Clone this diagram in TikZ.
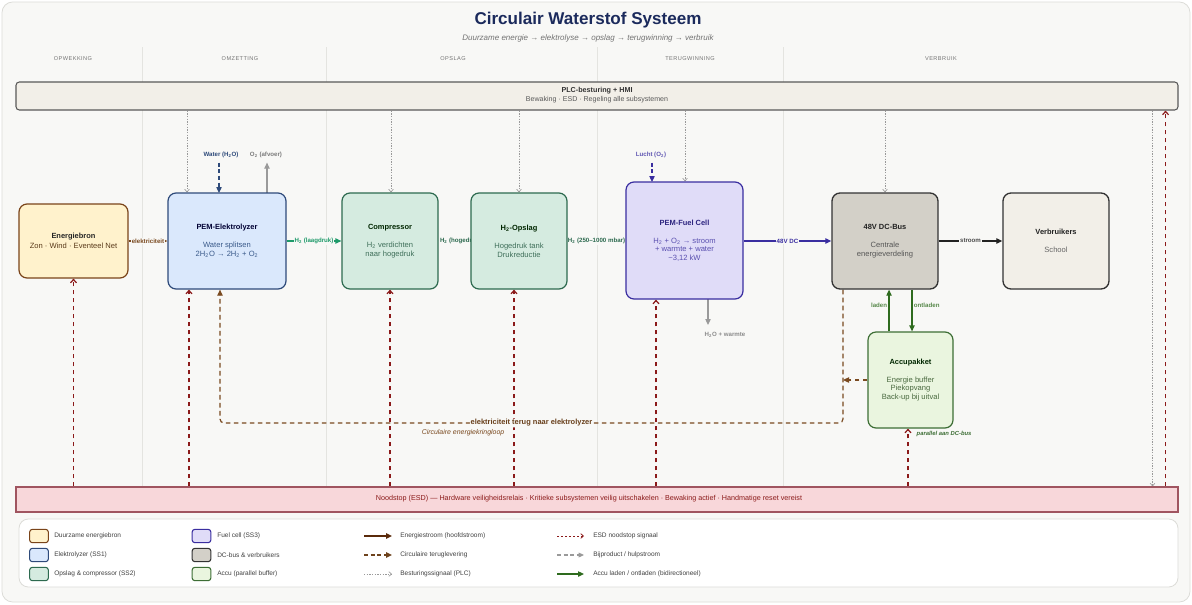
\documentclass[tikz,border=0pt]{standalone}
\usepackage{fontspec}
\setmainfont{Liberation Sans}
\newfontfamily\hdrfont[LetterSpace=8]{Liberation Sans}
\usetikzlibrary{arrows.meta}
\pgfdeclarelayer{background}
\pgfsetlayers{background,main}
\definecolor{bgc}{HTML}{F8F8F6}
\definecolor{framec}{HTML}{DCDCD8}
\definecolor{sepc}{HTML}{E4E4E0}
\definecolor{titlec}{HTML}{1B2A5C}
\definecolor{ebfill}{HTML}{FFF2CC}\definecolor{ebdraw}{HTML}{7A4419}\definecolor{ebtext}{HTML}{5A3A1A}
\definecolor{elfill}{HTML}{DAE8FC}\definecolor{eldraw}{HTML}{2E4A7A}\definecolor{eltext}{HTML}{3A5A8A}
\definecolor{ssfill}{HTML}{D5EBE0}\definecolor{ssdraw}{HTML}{2D6A4F}\definecolor{sstext}{HTML}{3F6F5A}
\definecolor{fcfill}{HTML}{E0DCF8}\definecolor{fcdraw}{HTML}{3A2EA0}\definecolor{fctext}{HTML}{5A50B0}
\definecolor{dcfill}{HTML}{D3D0C8}\definecolor{dcdraw}{HTML}{333333}\definecolor{dctext}{HTML}{555555}
\definecolor{vbfill}{HTML}{F2EFE8}
\definecolor{acfill}{HTML}{EAF5DF}\definecolor{acdraw}{HTML}{3D6E35}\definecolor{actext}{HTML}{4A6A40}
\definecolor{esdfill}{HTML}{F8D7DA}\definecolor{esddraw}{HTML}{A05560}\definecolor{esdc}{HTML}{8B1A1A}
\definecolor{brownc}{HTML}{7A4A20}
\definecolor{darkbrown}{HTML}{5A2A0A}
\definecolor{plcc}{HTML}{9A9A9A}
\definecolor{h2lc}{HTML}{1E9A6A}
\definecolor{greenc}{HTML}{2E6B1E}
\definecolor{darkt}{HTML}{222222}
\newcommand{\nt}[2]{{\color{#1}\fontsize{5.6pt}{6.5pt}\selectfont\bfseries #2}}
\newcommand{\sub}[1]{\textsubscript{#1}}
\begin{document}
\begin{tikzpicture}[x=0.75pt,y=-0.75pt,
  box/.style={draw, line width=0.9pt, rounded corners=6pt, align=center, inner sep=1pt, font=\fontsize{5.7pt}{6.5pt}\selectfont},
  lbl/.style={fill=bgc, inner sep=0.6pt, font=\fontsize{4.6pt}{5pt}\selectfont\bfseries},
  flow/.style={line width=0.9pt,-{Triangle[length=4.5pt,width=4pt]}},
  plcarrow/.style={draw=plcc, line width=0.5pt, dash pattern=on 1pt off 1pt, -{Straight Barb[length=2pt,width=3.5pt]}},
  esdarrow/.style={draw=esdc, line width=0.9pt, dash pattern=on 3pt off 3pt, -{Straight Barb[length=2.5pt,width=4.5pt]}},
  circ/.style={draw=brownc, line width=0.9pt, dash pattern=on 3.5pt off 2.5pt},
  hdr/.style={font=\hdrfont\fontsize{4.2pt}{5pt}\selectfont, text=black!55},
  sw/.style={minimum width=14pt, minimum height=10pt, rounded corners=2pt, line width=0.8pt, inner sep=0pt},
  legtxt/.style={anchor=west, font=\fontsize{4.9pt}{6pt}\selectfont, text=black!75, inner sep=0pt},
  smalllbl/.style={font=\fontsize{4.6pt}{5pt}\selectfont\bfseries}
]
\useasboundingbox (0,0) rectangle (1192,604);

% ---- title
\node[font=\fontsize{12.8pt}{15pt}\selectfont\bfseries, text=titlec] (title) at (588,20) {Circulair Waterstof Systeem};
\node[font=\fontsize{6pt}{7pt}\selectfont\itshape, text=black!55] (subtitle) at (588,38) {Duurzame energie → elektrolyse → opslag → terugwinning → verbruik};

% ---- column headers
\node[hdr] (h1) at (73,59) {OPWEKKING};
\node[hdr] (h2) at (240,59) {OMZETTING};
\node[hdr] (h3) at (453,59) {OPSLAG};
\node[hdr] (h4) at (690,59) {TERUGWINNING};
\node[hdr] (h5) at (941,59) {VERBRUIK};

% ---- bars
\node[draw=black!65, fill=vbfill, line width=0.8pt, rounded corners=2.5pt, minimum width=871.5pt, minimum height=21pt, inner sep=0pt] (plc) at (597,96) {};
\node[font=\fontsize{5.4pt}{6pt}\selectfont\bfseries, text=black!80] (plct) at (597,91) {PLC-besturing + HMI};
\node[font=\fontsize{5.3pt}{6pt}\selectfont, text=black!65] (plcs) at (597,100) {Bewaking · ESD · Regeling alle subsystemen};

\node[draw=esddraw, fill=esdfill, line width=0.8pt, minimum width=871.5pt, minimum height=18.75pt, inner sep=0pt] (esd) at (597,499.5) {};
\node[font=\fontsize{5.4pt}{6pt}\selectfont, text=esdc] (esdt) at (589,499)
  {Noodstop (ESD) — Hardware veiligheidsrelais · Kritieke subsystemen veilig uitschakelen · Bewaking actief · Handmatige reset vereist};

% ---- main nodes
\node[box, fill=ebfill, draw=ebdraw, text=ebtext, minimum width=81.75pt, minimum height=55.5pt] (eb) at (73.5,241)
  {\nt{black!85}{Energiebron}\\[0.6pt]Zon · Wind · Eventeel Net};
\node[box, fill=elfill, draw=eldraw, text=eltext, minimum width=88.5pt, minimum height=72pt] (el) at (227,241)
  {\nt{black!80!blue}{PEM-Elektrolyzer}\\[7pt]Water splitsen\\2H\sub{2}O → 2H\sub{2} + O\sub{2}};
\node[box, fill=ssfill, draw=ssdraw, text=sstext, minimum width=72pt, minimum height=72pt] (co) at (390,241)
  {\nt{black!85!green}{Compressor}\\[7pt]H\sub{2} verdichten\\naar hogedruk};
\node[box, fill=ssfill, draw=ssdraw, text=sstext, minimum width=72pt, minimum height=72pt] (op) at (519,241)
  {\nt{black!85!green}{H\sub{2}-Opslag}\\[7pt]Hogedruk tank\\Drukreductie};
\node[box, fill=fcfill, draw=fcdraw, text=fctext, minimum width=87.75pt, minimum height=87.75pt] (fc) at (684.5,240.5)
  {\nt{fcdraw!80!black}{PEM-Fuel Cell}\\[7pt]H\sub{2} + O\sub{2} → stroom\\+ warmte + water\\\textasciitilde 3,12 kW};
\node[box, fill=dcfill, draw=dcdraw, text=dctext, line width=1pt, minimum width=79.5pt, minimum height=72pt] (dc) at (885,241)
  {\nt{darkt}{48V DC-Bus}\\[7pt]Centrale\\energieverdeling};
\node[box, fill=vbfill, draw=dcdraw, text=black!60, line width=1pt, minimum width=79.5pt, minimum height=72pt] (vb) at (1056,241)
  {\nt{darkt}{Verbruikers}\\[7pt]School};
\node[box, fill=acfill, draw=acdraw, text=actext, minimum width=63.75pt, minimum height=72pt] (ac) at (910.5,380)
  {\nt{black!85!green}{Accupakket}\\[7pt]Energie buffer\\Piekopvang\\Back-up bij uitval};

% ---- side labels
\node[smalllbl, text=eldraw] (water) at (221,155) {Water (H\sub{2}O)};
\node[smalllbl, text=plcc!80!black] (o2) at (266,155) {O\sub{2} (afvoer)};
\node[smalllbl, text=fcdraw!80] (lucht) at (651,155) {Lucht (O\sub{2})};
\node[smalllbl, text=plcc!90!black] (h2ow) at (725,335) {H\sub{2}O + warmte};
\coordinate (wat) at (219,193);
\coordinate (o2p) at (267,193);
\coordinate (luc) at (652,182);
\coordinate (h2o) at (708,299);
\coordinate (h2oend) at (708,325);

% ---- helper coordinates
\coordinate (p1) at ([xshift=-30pt]el.north);
\coordinate (p2) at ([xshift=0.75pt]co.north);
\coordinate (p3) at (op.north);
\coordinate (p4) at ([xshift=0.4pt]fc.north);
\coordinate (p5) at (dc.north);
\coordinate (p6) at ([xshift=-19.5pt]plc.south east);
\coordinate (e1) at (eb.south);
\coordinate (e2) at ([xshift=-28.5pt]el.south);
\coordinate (e3) at (co.south);
\coordinate (e4) at ([xshift=-3.75pt]op.south);
\coordinate (e5) at ([xshift=-21.4pt]fc.south);
\coordinate (e6) at ([xshift=-1.9pt]ac.south);
\coordinate (e7) at ([xshift=-9.75pt]plc.south east);
\coordinate (loopR) at (843,423);
\coordinate (loopL) at (220,423);
\coordinate (ld) at ([xshift=-16.1pt]ac.north);
\coordinate (ol) at ([xshift=20.25pt]dc.south);

\begin{pgfonlayer}{background}
  \fill[white] (0,0) rectangle (1192,604);
  \draw[framec, fill=bgc, line width=0.6pt, rounded corners=8pt] (2,2) rectangle (1190,602);
  \foreach \xx in {142,326,597,783} \draw[sepc, line width=0.6pt] (\xx,47) -- (\xx,487);

  % main flows
  \draw[flow, brownc] (eb.east) -- node[lbl, text=brownc]{elektriciteit} (el.west);
  \draw[flow, h2lc] (el.east) -- node[lbl, text=h2lc]{H\sub{2} (laagdruk)} (co.west);
  \draw[flow, ssdraw] (co.east) -- node[lbl, text=ssdraw, pos=0, anchor=west]{H\sub{2} (hogedruk)} (op.west);
  \draw[flow, ssdraw] (op.east) -- node[lbl, text=ssdraw]{H\sub{2} (250–1000 mbar)} (op.east -| fc.west);
  \draw[flow, fcdraw] (fc.east |- dc.west) -- node[lbl, text=fcdraw]{48V DC} (dc.west);
  \draw[flow, darkt] (dc.east) -- node[lbl, text=black!70]{stroom} (vb.west);

  % inputs / outputs
  \draw[eldraw, line width=0.9pt, dash pattern=on 3pt off 2pt, -{Triangle[length=4.5pt,width=4pt]}] (water.south -| wat) -- (wat);
  \draw[plcc, line width=0.9pt, -{Triangle[length=4.5pt,width=4pt]}] (o2p) -- (o2.south -| o2p);
  \draw[fcdraw, line width=0.9pt, dash pattern=on 3pt off 2pt, -{Triangle[length=4.5pt,width=4pt]}] (lucht.south -| luc) -- (luc);
  \draw[plcc, line width=0.9pt, -{Triangle[length=4.5pt,width=4pt]}] (h2o) -- (h2oend);

  % PLC signals
  \foreach \p in {p1,p2,p3,p4,p5} \draw[plcarrow] (\p |- plc.south) -- (\p);
  \draw[plcarrow] (p6) -- (p6 |- esd.north);

  % ESD signals
  \foreach \e in {e1,e2,e3,e4,e5,e6,e7} \draw[esdarrow] (\e |- esd.north) -- (\e);

  % circular loop
  \draw[circ, rounded corners=3pt, -{Triangle[length=4.5pt,width=4pt]}] (dc.south -| loopR) -- (loopR)
     -- node[fill=bgc, inner sep=0.6pt, font=\fontsize{5.6pt}{6pt}\selectfont\bfseries, text=brownc!85!black]{elektriciteit terug naar elektrolyzer} (loopL)
     -- (loopL |- el.south);
  \draw[circ, -{Triangle[length=4.5pt,width=4pt]}] (ac.west) -- (ac.west -| loopR);
  \node[font=\fontsize{5.2pt}{6pt}\selectfont\itshape, text=brownc] (circl) at (463,433) {Circulaire energiekringloop};

  % accu
  \draw[greenc, line width=0.9pt, -{Triangle[length=4.5pt,width=4pt]}] (ld) -- (ld |- dc.south)
     node[pos=0.63, anchor=east, inner sep=1pt, font=\fontsize{4.6pt}{5pt}\selectfont\bfseries, text=greenc!80]{laden};
  \draw[greenc, line width=0.9pt, -{Triangle[length=4.5pt,width=4pt]}] (ol) -- (ol |- ac.north)
     node[pos=0.37, anchor=west, inner sep=1pt, font=\fontsize{4.6pt}{5pt}\selectfont\bfseries, text=greenc!80]{ontladen};
  \node[anchor=west, font=\fontsize{4.4pt}{5pt}\selectfont\bfseries\itshape, text=acdraw] (par) at (912,434) {parallel aan DC-bus};
\end{pgfonlayer}

% ---- legend
\node[draw=framec, fill=white, line width=0.6pt, rounded corners=7pt, minimum width=869.25pt, minimum height=51pt, inner sep=0pt] (leg) at (598.5,553) {};
\node[sw, fill=ebfill, draw=ebdraw] (s1) at (39,536) {};
\node[sw, fill=elfill, draw=eldraw] (s2) at (39,555) {};
\node[sw, fill=ssfill, draw=ssdraw] (s3) at (39,574) {};
\node[sw, fill=fcfill, draw=fcdraw] (s4) at (201.5,536) {};
\node[sw, fill=dcfill, draw=dcdraw] (s5) at (201.5,555) {};
\node[sw, fill=acfill, draw=acdraw] (s6) at (201.5,574) {};
\node[legtxt] at (54,536) {Duurzame energiebron};
\node[legtxt] at (54,555) {Elektrolyzer (SS1)};
\node[legtxt] at (54,574) {Opslag \& compressor (SS2)};
\node[legtxt] at (217,536) {Fuel cell (SS3)};
\node[legtxt] at (217,555) {DC-bus \& verbruikers};
\node[legtxt] at (217,574) {Accu (parallel buffer)};

\draw[darkbrown, line width=1.1pt, -{Triangle[length=4.5pt,width=4pt]}] (364,536) -- (392,536);
\draw[brownc!90!black, line width=1.1pt, dash pattern=on 3pt off 2pt, -{Triangle[length=4.5pt,width=4pt]}] (364,555) -- (392,555);
\draw[plcarrow] (364,574) -- (392,574);
\node[legtxt] at (400,536) {Energiestroom (hoofdstroom)};
\node[legtxt] at (400,555) {Circulaire teruglevering};
\node[legtxt] at (400,574) {Besturingssignaal (PLC)};

\draw[esdc, line width=0.6pt, dash pattern=on 1.5pt off 1.5pt, -{Straight Barb[length=2pt,width=3.5pt]}] (557,536) -- (584,536);
\draw[plcc, line width=0.8pt, dash pattern=on 3pt off 2pt, -{Triangle[length=4pt,width=3.5pt]}] (557,555) -- (584,555);
\draw[greenc, line width=0.9pt, -{Triangle[length=4.5pt,width=4pt]}] (557,574) -- (584,574);
\node[legtxt] at (593,536) {ESD noodstop signaal};
\node[legtxt] at (593,555) {Bijproduct / hulpstroom};
\node[legtxt] at (593,574) {Accu laden / ontladen (bidirectioneel)};
\end{tikzpicture}
\end{document}
